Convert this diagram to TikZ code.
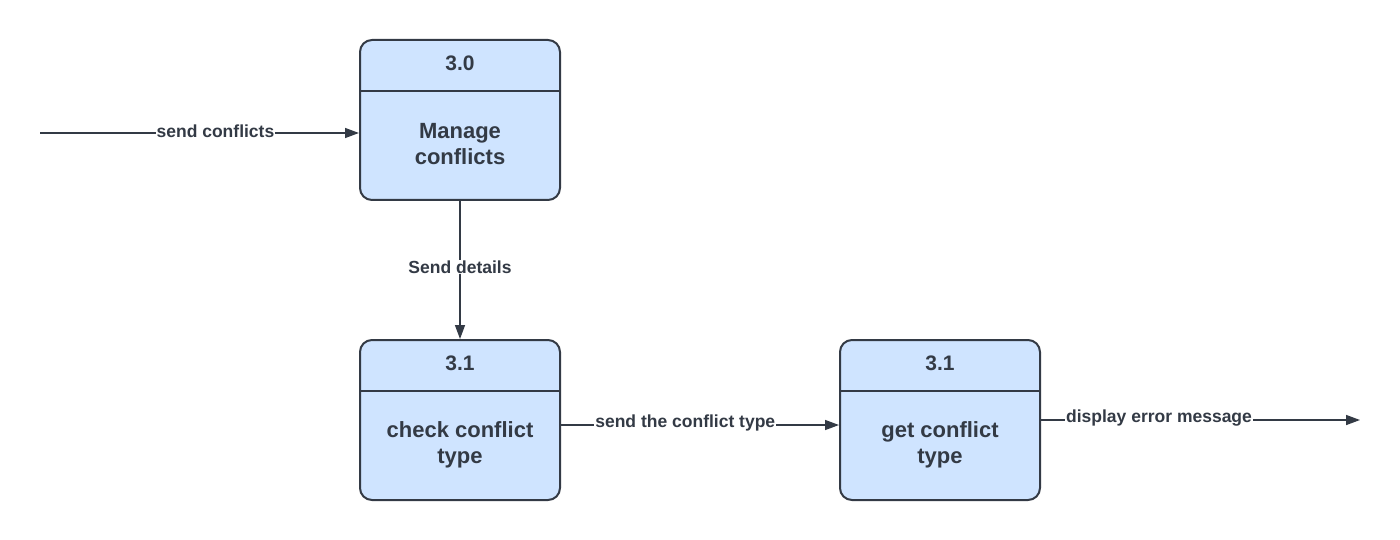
\documentclass[tikz,border=0pt]{standalone}
\usepackage{fontspec}
\setmainfont{Liberation Sans}
\usetikzlibrary{arrows.meta}
\definecolor{boxfill}{HTML}{CFE4FF}
\definecolor{ink}{HTML}{333A45}
\begin{document}
\begin{tikzpicture}[x=1pt,y=-1pt,
  proc/.style={draw=ink,fill=boxfill,line width=2pt,rounded corners=12pt,minimum width=200pt,minimum height=160pt,inner sep=0pt},
  ttl/.style={text=ink,font=\fontsize{21}{24}\selectfont\bfseries},
  bodytxt/.style={text=ink,font=\fontsize{22}{26}\selectfont\bfseries,align=center},
  flow/.style={draw=ink,line width=1.5pt,-{Triangle[length=14pt,width=10pt]}},
  lbl/.style={text=ink,fill=white,font=\fontsize{17.5}{20}\selectfont\bfseries,inner sep=1pt}]
\useasboundingbox (0,0) rectangle (1400,540);
% boxes
\node[proc] (b0) at (460,120) {};
\node[proc] (b1) at (460,420) {};
\node[proc] (b2) at (940,420) {};
\foreach \b/\t in {b0/3.0,b1/3.1,b2/3.1}{
  \draw[ink,line width=2pt] ([yshift=-52pt]\b.north west) -- ([yshift=-52pt]\b.north east);
  \node[ttl] at ([yshift=-24pt]\b.north) {\t};
}
\node[bodytxt] (t0) at (460,144) {Manage\\conflicts};
\node[bodytxt] (t1) at (460,445) {check conflict\\type};
\node[bodytxt] (t2) at (940,445) {get conflict\\type};
% free ends
\coordinate (in) at (40,133);
\coordinate (out) at (1360,420);
% connectors
\draw[flow] (in) -- (b0.west |- in) node[lbl,pos=0.55,yshift=2pt] {send conflicts};
\draw[flow] (b0.south) -- (b1.north) node[lbl,midway,yshift=3pt] {Send details};
\draw[flow] (b1.east |- 0,425) -- (b2.west |- 0,425) node[lbl,pos=0.447,yshift=2pt] {send the conflict type};
\draw[flow] (b2.east |- out) -- (out) node[lbl,pos=0.37,yshift=2pt] {display error message};
\end{tikzpicture}
\end{document}
